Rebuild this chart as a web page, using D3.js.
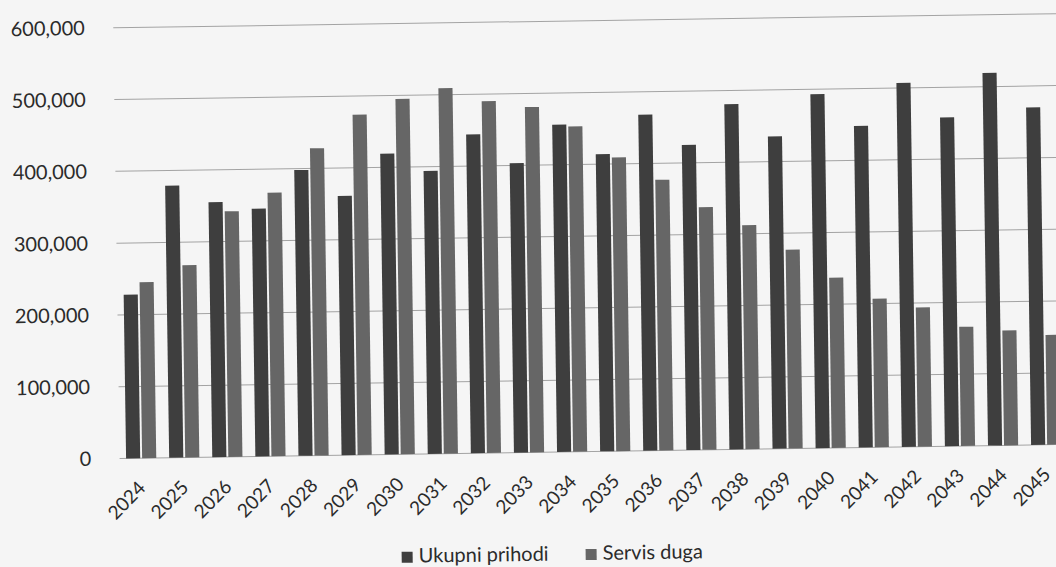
<!DOCTYPE html>
<html>
<head>
<meta charset="utf-8">
<script src="https://cdn.jsdelivr.net/npm/d3@7"></script>
<style>
  html, body { margin: 0; padding: 0; background: #f5f5f5; }
  svg { display: block; }
  text { font-family: Lato, "Open Sans", sans-serif; fill: #2b2b2b; }
</style>
</head>
<body>
<svg id="chart" width="1056" height="567"></svg>
<script>
// ---- data (values in units) ----
const years = ["2024","2025","2026","2027","2028","2029","2030","2031","2032","2033","2034",
               "2035","2036","2037","2038","2039","2040","2041","2042","2043","2044","2045"];
const seriesNames = ["Ukupni prihodi", "Servis duga"];
const ukupniPrihodi = [228000, 379000, 355000, 345000, 398000, 361000, 419000, 394000, 444000, 403000, 456000,
                       414000, 468000, 425000, 481000, 435000, 493000, 448000, 507000, 458000, 519000, 470000];
const servisDuga    = [245000, 268000, 342000, 367000, 428000, 474000, 495000, 509000, 490000, 481000, 453000,
                       409000, 377000, 338000, 312000, 277000, 237000, 207000, 194000, 166000, 160000, 153000];
const yTicks = [0, 100000, 200000, 300000, 400000, 500000, 600000];

const colors = ["#3e3e3e", "#666666"];

const svg = d3.select("#chart");
svg.append("rect").attr("width", 1056).attr("height", 567).attr("fill", "#f5f5f5");

// the scanned chart is slightly tilted
const g = svg.append("g").attr("transform", "rotate(-0.85, 590, 241)");

const plotLeft = 116.45, step = 43.1;
const plotRight = plotLeft + years.length * step;
const yBase = 451.5, yTop = yBase - 6 * 71.8;

const x0 = d3.scaleBand().domain(years).range([plotLeft, plotRight]).paddingInner(0.3).paddingOuter(0.15);
const x1 = d3.scaleBand().domain(seriesNames).range([0, x0.bandwidth()]).paddingInner(0.12);
const y = d3.scaleLinear().domain([0, 600000]).range([yBase, yTop]);

// gridlines
g.append("g").selectAll("line").data(yTicks).join("line")
  .attr("x1", plotLeft).attr("x2", plotRight + 10)
  .attr("y1", d => y(d)).attr("y2", d => y(d))
  .attr("stroke", "#a3a3a3").attr("stroke-width", 1);

// y axis labels
const yAxis = d3.axisLeft(y).tickValues(yTicks).tickFormat(d3.format(",")).tickSize(0).tickPadding(0);
const ya = g.append("g").attr("transform", "translate(88,0)").call(yAxis);
ya.select(".domain").remove();
ya.selectAll("text").style("font-size", "20px").style("font-family", "Lato, sans-serif").attr("fill", "#2b2b2b");

// bars
const table = years.map((yr, i) => ({ year: yr, values: [ukupniPrihodi[i], servisDuga[i]] }));
const groups = g.append("g").selectAll("g").data(table).join("g")
  .attr("transform", d => `translate(${x0(d.year)},0)`);
groups.selectAll("rect").data(d => d.values.map((v, k) => ({ key: seriesNames[k], v, k }))).join("rect")
  .attr("x", d => x1(d.key))
  .attr("width", x1.bandwidth())
  .attr("y", d => y(d.v))
  .attr("height", d => yBase - y(d.v))
  .attr("fill", d => colors[d.k]);

// x axis labels
const xAxis = d3.axisBottom(x0).tickSize(0).tickPadding(0);
const xa = g.append("g").attr("transform", `translate(0,${yBase})`).call(xAxis);
xa.select(".domain").remove();
xa.selectAll("text")
  .style("font-size", "19px").style("font-family", "Lato, sans-serif").attr("fill", "#2b2b2b")
  .attr("text-anchor", "end")
  .attr("dy", "0")
  .attr("transform", "translate(5,31) rotate(-45)");

// legend
const legend = g.append("g").attr("transform", "translate(397,0)");
const legX = [0, 184];
seriesNames.forEach((name, i) => {
  legend.append("rect").attr("x", legX[i]).attr("y", 549).attr("width", 11).attr("height", 11).attr("fill", colors[i]);
  legend.append("text").attr("x", legX[i] + 17).attr("y", 560)
    .style("font-size", "20px").text(name);
});
</script>
</body>
</html>
